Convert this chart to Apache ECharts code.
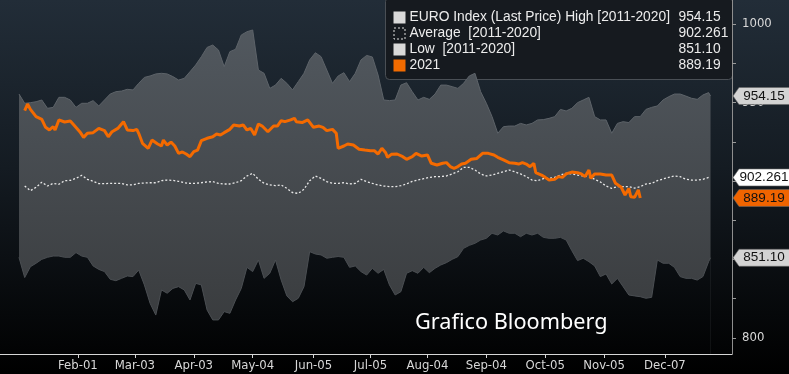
<!DOCTYPE html>
<html>
<head>
<meta charset="utf-8">
<script src="https://cdn.jsdelivr.net/npm/echarts@6/dist/echarts.min.js"></script>
<style>html,body{margin:0;padding:0;background:#000;}#chart{width:789px;height:374px;}</style>
</head>
<body>
<div id="chart"></div>
<script>
// Day index: 0 = Jan-01
const tickDays = [31, 61, 92, 123, 155, 185, 215, 246, 277, 308, 340];
const tickLabels = ['Feb-01', 'Mar-03', 'Apr-03', 'May-04', 'Jun-05', 'Jul-05', 'Aug-04', 'Sep-04', 'Oct-05', 'Nov-05', 'Dec-07'];
const yLabelValues = [800, 850, 900, 950, 1000];
const yTickValues = [800, 825, 850, 875, 900, 925, 950, 975, 1000];

const bandDays = [0,3,6,9,12,15,18,21,24,27,30,33,36,39,42,45,48,51,54,57,60,63,66,69,72,75,78,81,84,87,90,93,96,99,102,105,108,111,114,117,120,123,126,129,132,135,138,141,144,147,150,153,156,159,162,165,168,171,174,177,180,183,186,189,192,195,198,201,204,207,210,213,216,219,222,225,228,231,234,237,240,243,246,249,252,255,258,261,264,267,270,273,276,279,282,285,288,291,294,297,300,303,306,309,312,315,318,321,324,327,330,333,336,339,342,345,348,351,354,357,360,363,364];

const highVals = [955.4,949.5,949.9,950.5,951.6,946.3,946.9,953.3,953.3,951.6,946.9,949.5,949.5,951.2,947.8,951.6,955.4,956.9,957.3,958.4,958.0,962.2,966.0,966.9,968.2,968.6,968.2,966.5,964.3,965.4,969.6,973.9,979.2,985.1,986.6,983.4,972.8,982.4,983.9,993.0,995.1,996.2,970.7,968.6,959.0,961.1,965.4,962.2,958.0,963.3,968.6,977.1,981.7,979.2,970.7,962.2,966.9,969.0,963.3,968.6,977.1,980.0,979.0,967.5,951.6,951.2,951.6,961.1,962.6,956.9,951.6,953.3,952.0,955.4,961.1,961.1,960.1,959.0,962.2,966.9,968.6,956.9,949.5,941.0,930.4,934.6,935.0,935.0,936.7,935.7,936.7,938.9,939.1,939.9,941.0,945.6,944.6,946.3,949.9,951.6,953.3,941.0,938.9,938.9,930.4,936.7,937.8,937.2,941.0,941.0,945.6,946.9,947.8,951.6,953.7,955.4,955.4,954.1,952.7,952.0,954.8,956.3,954.15];

const lowVals = [851.4,838.5,845.4,847.6,850.1,851.4,852.2,852.2,851.4,851.4,854.4,852.2,851.4,845.9,843.7,842.3,837.4,836.5,838.0,839.5,839.1,843.3,833.8,822.1,814.6,830.6,828.5,831.6,832.7,830.6,824.2,834.8,833.8,817.8,811.5,811.5,816.8,815.7,824.2,831.6,845.0,842.3,849.7,838.0,841.2,849.7,836.9,826.8,823.1,825.3,832.7,855.0,853.5,852.9,850.8,851.4,851.9,851.4,845.0,845.9,842.3,840.1,844.4,841.2,843.7,833.8,827.4,829.5,841.2,842.9,841.2,845.0,841.6,844.4,846.5,848.0,850.1,851.8,857.1,859.0,860.3,862.4,863.5,866.7,865.6,868.2,866.7,866.7,864.5,866.7,865.6,866.7,864.1,863.5,863.5,864.1,862.4,855.6,849.3,850.8,848.6,845.9,839.1,840.8,834.4,838.0,832.7,827.4,826.8,826.3,825.3,825.9,849.7,847.6,847.6,845.0,839.1,838.0,838.0,836.9,839.1,848.6,851.10];

const avgVals = [null,896.8,893.8,896.0,899.2,896.8,898.5,897.9,900.2,900.4,901.7,903.6,901.1,899.8,898.3,898.3,898.5,898.5,898.5,897.5,897.5,898.5,898.7,898.9,898.9,900.2,900.6,900.4,899.8,898.9,898.5,898.5,898.9,899.4,899.6,898.5,898.1,898.1,898.9,900.2,903.2,904.9,901.1,898.5,897.5,897.0,897.5,895.3,892.6,892.1,894.7,900.2,903.2,901.7,899.6,898.5,898.5,898.9,898.1,898.5,901.1,899.6,898.5,897.5,896.8,896.4,896.4,897.0,898.1,899.8,900.6,901.5,902.3,902.8,902.8,903.2,904.5,905.9,908.7,908.7,907.0,904.5,903.2,903.8,904.9,905.9,907.0,905.9,904.5,902.8,900.6,900.2,901.5,901.7,902.3,903.8,904.9,904.5,903.8,903.2,902.8,901.1,899.4,896.8,895.3,896.4,896.4,896.4,895.5,896.4,898.1,898.5,900.2,901.3,902.3,903.2,902.8,901.1,900.6,900.6,901.1,902.261,null];

const y2021Days = [3,4.5,6,9,12,14,16,18,19,21,24,27,29,32,34,36,39,42,45,47,49,52,55,57,60,62,63,65,68,70,73,75,76,78,80,82,84,86,88,90,92,94,96,99,102,104,106,108,111,113,116,118,120,122,124,126,128,131,134,136,138,140,141,143,145,146,149,152,155,158,160,162,165,167,168,171,173,176,179,182,185,187,189,191,193,194,196,199,202,204,207,209,212,215,217,220,223,225,227,229,231,233,235,238,241,244,247,250,252,255,258,261,263,265,267,269,271,272,275,277,279,282,284,286,288,291,294,296,298,300,301,303,306,309,312,314,317,319,321,322,324,326,327];
const y2021Vals = [944.8,949.0,945.6,941.0,939.3,934.2,932.5,934.6,932.5,938.9,937.6,938.2,935.5,931.4,927.8,930.4,930.8,933.5,932.1,928.2,931.4,933.5,937.8,932.5,932.1,932.9,930.4,924.0,920.8,926.1,923.6,922.3,926.1,922.9,924.8,922.3,917.6,918.5,917.2,915.5,918.7,919.7,925.7,927.2,928.2,929.9,929.3,930.8,932.9,935.7,935.0,935.7,932.5,933.5,929.3,936.3,935.0,931.4,935.0,935.0,938.4,937.8,936.7,938.9,939.9,937.8,937.2,938.9,934.2,935.0,934.2,932.1,932.9,930.4,920.8,922.3,923.6,922.9,920.2,919.7,919.3,919.3,917.2,920.8,918.0,915.1,917.0,917.2,915.5,913.8,915.5,917.6,915.9,916.6,911.3,910.2,911.3,911.7,909.2,908.1,909.2,910.8,911.3,913.8,914.4,917.6,917.6,916.6,915.1,913.4,911.7,911.3,910.8,911.7,910.8,909.1,911.3,905.4,903.8,902.3,900.6,901.1,902.8,902.3,904.5,905.7,905.3,904.5,902.8,907.0,901.7,904.5,904.5,903.8,903.8,898.5,896.0,891.1,895.3,890.0,889.6,894.3,889.19];

const X_MIN = -10, X_MAX = 375.3, Y_MIN = 789.8, Y_MAX = 1015.3;

const zip = (xs, ys) => xs.map((x, i) => [x, ys[i]]);
const highData = zip(bandDays, highVals);
const lowData = zip(bandDays, lowVals);
const avgData = zip(bandDays, avgVals);
const d2021 = zip(y2021Days, y2021Vals);

const lastHigh = highVals[highVals.length - 1];
const lastLow = lowVals[lowVals.length - 1];
const lastAvg = avgVals[avgVals.length - 2];
const last2021 = y2021Vals[y2021Vals.length - 1];

const BG_STOPS = [{ offset: 0, color: '#222d38' }, { offset: 0.45, color: '#141b22' }, { offset: 1, color: '#000000' }];
const FONT = '"Liberation Sans", Arial, sans-serif';
const NARROW = '"Liberation Sans Narrow", "DejaVu Sans Condensed", sans-serif';

const TAG = 'path://M0 8.5 L6 0 L60 0 L60 17 L6 17 Z';
function tag(val, text, fill) {
  return {
    coord: [X_MAX, val], name: text,
    symbol: TAG, symbolSize: [60, 17], symbolOffset: [31, 0], symbolKeepAspect: false,
    itemStyle: { color: fill, borderColor: '#666', borderWidth: 0.5 },
    label: { show: true, position: 'inside', formatter: '{b}', color: '#111', fontSize: 13.5,
      fontFamily: FONT, offset: [1, 0] }
  };
}

const chart = echarts.init(document.getElementById('chart'), null, { renderer: 'canvas' });
chart.setOption({
  animation: false,
  backgroundColor: { type: 'linear', x: 0, y: 0, x2: 0, y2: 1, colorStops: BG_STOPS },
  grid: { left: 0, right: 57, top: 0, bottom: 20, containLabel: false },
  xAxis: {
    type: 'value', min: X_MIN, max: X_MAX,
    axisLine: { show: true, onZero: false, lineStyle: { color: '#d6d6d6', width: 1 } },
    axisTick: { show: true, customValues: tickDays, length: 4, lineStyle: { color: '#d6d6d6' } },
    axisLabel: { show: true, customValues: tickDays, color: '#d8d8d8', fontSize: 13,
      fontFamily: NARROW, margin: 5,
      formatter: v => tickLabels[tickDays.indexOf(v)] || '' },
    splitLine: { show: false }
  },
  yAxis: {
    type: 'value', position: 'right', min: Y_MIN, max: Y_MAX,
    axisLine: { show: true, onZero: false, lineStyle: { color: '#8e8e8e', width: 1 } },
    axisTick: { show: true, customValues: yTickValues, length: 4, lineStyle: { color: '#9a9a9a' } },
    axisLabel: { show: true, customValues: yLabelValues, color: '#d8d8d8', fontSize: 13,
      fontFamily: NARROW, margin: 10, formatter: v => String(v) },
    splitLine: { show: false }
  },
  series: [
    { name: 'High', type: 'line', data: highData, symbol: 'none',
      lineStyle: { color: '#5d6369', width: 1 },
      areaStyle: { opacity: 1, origin: 'start', color: { type: 'linear', global: true, x: 0, y: 0, x2: 0, y2: 354,
        colorStops: [{ offset: 0, color: '#545b62' }, { offset: 1, color: '#37393b' }] } }, z: 1 },
    { name: 'Low', type: 'line', data: lowData, symbol: 'none',
      lineStyle: { color: '#4a4e52', width: 1 },
      areaStyle: { opacity: 1, origin: 'start', color: { type: 'linear', global: true, x: 0, y: 0, x2: 0, y2: 374,
        colorStops: BG_STOPS } }, z: 2 },
    { name: 'Average', type: 'line', data: avgData, symbol: 'none',
      lineStyle: { color: '#e8e8e8', width: 1.3, type: [2, 2] }, z: 3 },
    { name: '2021', type: 'line', data: d2021, symbol: 'none',
      lineStyle: { color: '#f46a00', width: 3 }, z: 4,
      markPoint: { z: 10, data: [
        tag(lastHigh, lastHigh.toFixed(2), '#d3d3d3'),
        tag(lastAvg, lastAvg.toFixed(3), '#ffffff'),
        tag(last2021, last2021.toFixed(2), '#f06400'),
        tag(lastLow, lastLow.toFixed(2), '#d3d3d3')
      ] } }
  ],
  graphic: [
    { type: 'group', left: 385, top: -3, z: 20, children: [
      { type: 'rect', shape: { x: 0, y: 0, width: 347, height: 82, r: 4 },
        style: { fill: '#161a1f', stroke: '#4a4f55', lineWidth: 1 } },
      { type: 'rect', shape: { x: 8, y: 14, width: 12, height: 12 }, style: { fill: '#d9d9d9' } },
      { type: 'rect', shape: { x: 8.5, y: 30.5, width: 11, height: 11 }, style: { fill: 'none', stroke: '#e0e0e0', lineWidth: 1, lineDash: [2, 2] } },
      { type: 'rect', shape: { x: 8, y: 46, width: 12, height: 12 }, style: { fill: '#d9d9d9' } },
      { type: 'rect', shape: { x: 8, y: 62, width: 12, height: 12 }, style: { fill: '#f26b00' } },
      { type: 'text', x: 24, y: 20, style: { text: 'EURO Index (Last Price) High [2011-2020]', fill: '#ececec', font: '13.8px ' + FONT, verticalAlign: 'middle' } },
      { type: 'text', x: 24, y: 36, style: { text: 'Average  [2011-2020]', fill: '#ececec', font: '13.8px ' + FONT, verticalAlign: 'middle' } },
      { type: 'text', x: 24, y: 52, style: { text: 'Low  [2011-2020]', fill: '#ececec', font: '13.8px ' + FONT, verticalAlign: 'middle' } },
      { type: 'text', x: 24, y: 68, style: { text: '2021', fill: '#ececec', font: '13.8px ' + FONT, verticalAlign: 'middle' } },
      { type: 'text', x: 293, y: 20, style: { text: lastHigh.toFixed(2), fill: '#ececec', font: '13.8px ' + FONT, verticalAlign: 'middle' } },
      { type: 'text', x: 293, y: 36, style: { text: lastAvg.toFixed(3), fill: '#ececec', font: '13.8px ' + FONT, verticalAlign: 'middle' } },
      { type: 'text', x: 293, y: 52, style: { text: lastLow.toFixed(2), fill: '#ececec', font: '13.8px ' + FONT, verticalAlign: 'middle' } },
      { type: 'text', x: 293, y: 68, style: { text: last2021.toFixed(2), fill: '#ececec', font: '13.8px ' + FONT, verticalAlign: 'middle' } }
    ] },
    { type: 'text', left: 415, top: 312, z: 20, style: { text: 'Grafico Bloomberg', fill: '#ffffff', font: '21.7px "Noto Sans"' } }
  ]
});
</script>
</body>
</html>
